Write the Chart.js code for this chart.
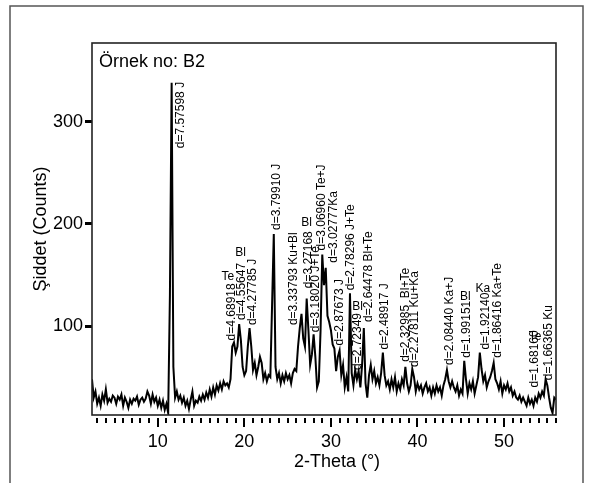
<!DOCTYPE html>
<html>
<head>
<meta charset="utf-8">
<script src="https://cdn.jsdelivr.net/npm/chart.js@4/dist/chart.umd.min.js"></script>
<style>
  html, body { margin: 0; background: #fff; }
  #wrap { width: 589px; height: 483px; }
</style>
</head>
<body>
<div id="wrap"><canvas id="xrd" width="589" height="483"></canvas></div>
<script>
// 2-theta positions (degrees)
const twoTheta = [
  2.4, 2.6, 2.8, 3.0, 3.2, 3.4, 3.6, 3.8, 4.0, 4.2,
  4.4, 4.6, 4.8, 5.0, 5.2, 5.4, 5.6, 5.8, 6.0, 6.2,
  6.4, 6.6, 6.8, 7.0, 7.2, 7.4, 7.6, 7.8, 8.0, 8.2,
  8.4, 8.6, 8.8, 9.0, 9.2, 9.4, 9.6, 9.8, 10.0, 10.2,
  10.4, 10.6, 10.8, 11.0, 11.2, 11.4, 11.6, 11.8, 12.0, 12.2,
  12.4, 12.6, 12.8, 13.0, 13.2, 13.4, 13.6, 13.8, 14.0, 14.2,
  14.4, 14.6, 14.8, 15.0, 15.2, 15.4, 15.6, 15.8, 16.0, 16.2,
  16.4, 16.6, 16.8, 17.0, 17.2, 17.4, 17.6, 17.8, 18.0, 18.2,
  18.4, 18.6, 18.8, 19.0, 19.2, 19.4, 19.6, 19.8, 20.0, 20.2,
  20.4, 20.6, 20.8, 21.0, 21.2, 21.4, 21.6, 21.8, 22.0, 22.2,
  22.4, 22.6, 22.8, 23.0, 23.2, 23.4, 23.6, 23.8, 24.0, 24.2,
  24.4, 24.6, 24.8, 25.0, 25.2, 25.4, 25.6, 25.8, 26.0, 26.2,
  26.4, 26.6, 26.8, 27.0, 27.2, 27.4, 27.6, 27.8, 28.0, 28.2,
  28.4, 28.6, 28.8, 29.0, 29.2, 29.4, 29.6, 29.8, 30.0, 30.2,
  30.4, 30.6, 30.8, 31.0, 31.2, 31.4, 31.6, 31.8, 32.0, 32.2,
  32.4, 32.6, 32.8, 33.0, 33.2, 33.4, 33.6, 33.8, 34.0, 34.2,
  34.4, 34.6, 34.8, 35.0, 35.2, 35.4, 35.6, 35.8, 36.0, 36.2,
  36.4, 36.6, 36.8, 37.0, 37.2, 37.4, 37.6, 37.8, 38.0, 38.2,
  38.4, 38.6, 38.8, 39.0, 39.2, 39.4, 39.6, 39.8, 40.0, 40.2,
  40.4, 40.6, 40.8, 41.0, 41.2, 41.4, 41.6, 41.8, 42.0, 42.2,
  42.4, 42.6, 42.8, 43.0, 43.2, 43.4, 43.6, 43.8, 44.0, 44.2,
  44.4, 44.6, 44.8, 45.0, 45.2, 45.4, 45.6, 45.8, 46.0, 46.2,
  46.4, 46.6, 46.8, 47.0, 47.2, 47.4, 47.6, 47.8, 48.0, 48.2,
  48.4, 48.6, 48.8, 49.0, 49.2, 49.4, 49.6, 49.8, 50.0, 50.2,
  50.4, 50.6, 50.8, 51.0, 51.2, 51.4, 51.6, 51.8, 52.0, 52.2,
  52.4, 52.6, 52.8, 53.0, 53.2, 53.4, 53.6, 53.8, 54.0, 54.2,
  54.4, 54.6, 54.8, 55.0, 55.2, 55.4, 55.6, 55.8, 56.0
];

// intensity (counts)
const counts = [
  48, 30, 36, 24, 30, 22, 33, 27, 38, 25,
  29, 26, 32, 30, 24, 31, 28, 33, 22, 30,
  26, 20, 28, 24, 29, 27, 31, 23, 28, 30,
  26, 29, 36, 32, 24, 33, 26, 30, 22, 28,
  20, 27, 18, 24, 15, 130, 338, 60, 30, 36,
  28, 32, 25, 30, 22, 27, 19, 28, 36, 22,
  27, 25, 31, 27, 33, 28, 35, 30, 38, 31,
  40, 33, 42, 37, 44, 38, 46, 42, 44, 40,
  48, 80, 84, 74, 80, 102, 86, 60, 52, 56,
  80, 98, 80, 57, 64, 52, 60, 70, 64, 48,
  54, 46, 52, 50, 120, 190, 60, 48, 54, 44,
  52, 46, 54, 48, 52, 44, 54, 58, 56, 80,
  98, 112, 88, 80, 127, 96, 62, 72, 92, 70,
  40, 46, 95, 170, 140, 157, 110, 104, 96, 82,
  78, 56, 70, 76, 52, 62, 40, 50, 36, 132,
  54, 42, 57, 48, 56, 40, 62, 98, 44, 30,
  52, 62, 48, 56, 44, 50, 42, 54, 74, 52,
  42, 46, 38, 48, 40, 50, 36, 44, 38, 48,
  42, 60, 44, 36, 42, 58, 50, 36, 44, 38,
  42, 34, 40, 44, 36, 40, 32, 40, 34, 42,
  36, 40, 32, 42, 48, 57, 46, 40, 46, 40,
  36, 42, 32, 38, 34, 66, 48, 34, 44, 38,
  46, 34, 42, 50, 74, 58, 46, 52, 40, 46,
  50, 56, 64, 48, 44, 38, 46, 34, 42, 38,
  44, 36, 40, 32, 36, 30, 28, 32, 26, 30,
  26, 22, 30, 24, 28, 22, 30, 26, 34, 30,
  36, 32, 48, 42, 30, 20, 15, 30, 28
];

const xTickLabels = [10, 20, 30, 40, 50];
const yTickLabels = [100, 200, 300];

// peak labels (rotated), anchored at the foot of the text
const peakText = [
  'd=7.57598 J', 'd=4.68918', 'd=4.55647', 'd=4.27785 J', 'd=3.79910 J',
  'd=3.33793 Ku+Bl', 'd=3.27168', 'd=3.18020 J+Te', 'd=3.06960 Te+J', 'd=3.02777Ka',
  'd=2.87673 J', 'd=2.78296 J+Te', 'd=2.72349', 'd=2.64478 Bl+Te', 'd=2.48917 J',
  'd=2.32985  Bl+Te', 'd=2.27811 Ku+Ka', 'd=2.08440 Ka+J', 'd=1.99151', 'd=1.92140',
  'd=1.86416 Ka+Te', 'd=1.68160', 'd=1.66365 Ku'
];
const peakX = [
  12.69, 18.55, 19.70, 20.97, 23.74,
  25.66, 27.39, 28.28, 28.94, 30.28,
  31.05, 32.32, 33.09, 34.32, 36.25,
  38.67, 39.71, 43.67, 45.68, 47.91,
  49.21, 53.57, 55.10
];
const peakY = [
  274, 86, 106, 101, 194,
  101, 137, 94, 174, 162,
  81, 135, 57, 104, 77,
  65, 60, 62, 69, 77,
  69, 40, 47
];

// upright phase labels
const phaseText = ['Te', 'Bl', 'Bl', 'Bl', 'Bl', 'Ka', 'Te'];
const phaseX = [18.1, 19.56, 27.2, 33.07, 45.54, 47.56, 53.57];
const phaseY = [148, 172, 201, 119, 129, 137, 90];

const FONT = '"Liberation Sans", Arial, sans-serif';

const extras = {
  id: 'extras',
  afterDraw(chart) {
    const ctx = chart.ctx;
    const area = chart.chartArea;
    const xs = chart.scales.x;
    const ys = chart.scales.y;
    ctx.save();

    // outer frame
    ctx.strokeStyle = '#555';
    ctx.lineWidth = 1.5;
    ctx.strokeRect(10, 6, 573, 500);

    // plot frame
    ctx.strokeStyle = '#222';
    ctx.lineWidth = 1.6;
    ctx.strokeRect(area.left, area.top, area.right - area.left, area.bottom - area.top);

    // x tick marks, sitting a little below the axis
    ctx.strokeStyle = '#000';
    ctx.lineWidth = 2;
    xs.ticks.forEach(t => {
      const px = Math.round(xs.getPixelForValue(t.value));
      const major = xTickLabels.includes(Math.round(t.value));
      ctx.beginPath();
      ctx.moveTo(px, area.bottom + 3);
      ctx.lineTo(px, area.bottom + (major ? 12 : 8));
      ctx.stroke();
    });

    ctx.fillStyle = '#000';
    ctx.font = '18px ' + FONT;
    ctx.textAlign = 'left';
    ctx.textBaseline = 'alphabetic';
    ctx.fillText('Örnek no: B2', area.left + 7, area.top + 24);

    ctx.textAlign = 'center';
    ctx.textBaseline = 'middle';
    ctx.fillText('2-Theta (°)', 337, 462);

    // peak annotations
    ctx.font = '12px ' + FONT;
    peakText.forEach((txt, i) => {
      const px = xs.getPixelForValue(peakX[i]);
      const py = ys.getPixelForValue(peakY[i]);
      ctx.save();
      ctx.translate(px, py);
      ctx.rotate(-Math.PI / 2);
      ctx.textAlign = 'left';
      ctx.textBaseline = 'middle';
      ctx.fillText(txt, 0, 0);
      ctx.restore();
    });
    phaseText.forEach((txt, i) => {
      ctx.textAlign = 'center';
      ctx.textBaseline = 'middle';
      ctx.fillText(txt, xs.getPixelForValue(phaseX[i]), ys.getPixelForValue(phaseY[i]));
    });
    ctx.restore();
  }
};

new Chart(document.getElementById('xrd'), {
  type: 'line',
  plugins: [extras],
  data: {
    datasets: [{
      data: twoTheta.map((t, i) => ({ x: t, y: counts[i] })),
      borderColor: '#000',
      borderWidth: 2,
      pointRadius: 0,
      tension: 0,
      fill: false
    }]
  },
  options: {
    responsive: false,
    animation: false,
    layout: { padding: { left: 0, top: 43, right: 33, bottom: 0 } },
    plugins: { legend: { display: false }, tooltip: { enabled: false } },
    scales: {
      x: {
        type: 'linear',
        min: 2.4,
        max: 56,
        border: { display: false },
        grid: { display: true, drawOnChartArea: false, drawTicks: true, tickLength: 14, tickColor: 'rgba(0,0,0,0)' },
        ticks: {
          stepSize: 1,
          includeBounds: false,
          autoSkip: false,
          maxRotation: 0,
          padding: 2,
          color: '#000',
          font: { size: 18, family: FONT },
          callback: v => xTickLabels.includes(Math.round(v)) && Math.abs(v - Math.round(v)) < 1e-6 ? String(Math.round(v)) : ''
        },
        afterFit: s => { s.height = 68; }
      },
      y: {
        min: 13,
        max: 377,
        border: { display: false },
        grid: { drawOnChartArea: false, drawTicks: true, tickLength: 7, tickWidth: 3, tickColor: '#000' },
        ticks: {
          stepSize: 100,
          includeBounds: false,
          padding: 2,
          color: '#000',
          font: { size: 18, family: FONT }
        },
        afterBuildTicks: s => { s.ticks = s.ticks.filter(t => yTickLabels.includes(t.value)); },
        title: {
          display: true,
          text: 'Şiddet (Counts)',
          color: '#000',
          font: { size: 18, family: FONT },
          padding: { top: 30, bottom: 0 }
        },
        afterFit: s => { s.width = 92; }
      }
    }
  }
});
</script>
</body>
</html>
